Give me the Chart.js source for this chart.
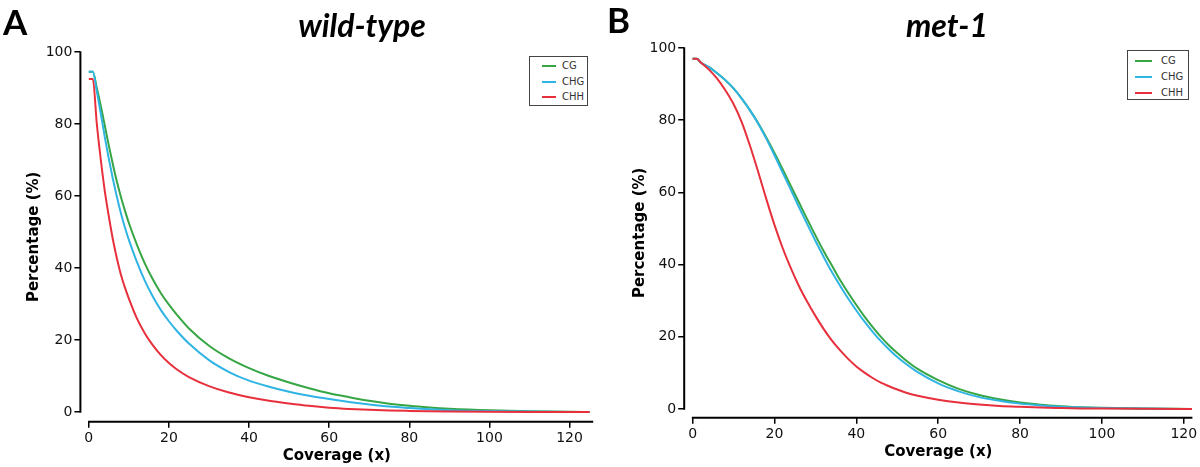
<!DOCTYPE html>
<html>
<head>
<meta charset="utf-8">
<script src="https://cdn.jsdelivr.net/npm/chart.js@4.4.1/dist/chart.umd.min.js"></script>
<style>
  html, body { margin:0; padding:0; background:#fff; }
  #wrap { position:relative; width:1200px; height:467px; overflow:hidden; background:#fff; }
  canvas { position:absolute; top:0; }
  .panel { position:absolute; font-family: Lato, "Open Sans", sans-serif; font-weight:700; font-size:35px; line-height:35px; color:#000; }
  .title { position:absolute; font-family: Lato, "Open Sans", sans-serif; font-weight:700; font-style:italic; font-size:32px; line-height:32px; color:#000; transform:translateX(-50%); white-space:nowrap; }
  .legend { position:absolute; border:1px solid #444; background:#fff; font-family:"DejaVu Sans", sans-serif; font-size:10px; color:#333; box-sizing:border-box; }
  .legend .row { position:absolute; height:12px; line-height:12px; }
  .legend .sw { position:absolute; height:2px; top:5px; }
  .legend .lb { position:absolute; top:0; white-space:nowrap; }
</style>
</head>
<body>
<div id="wrap">
  <canvas id="cA" width="600" height="467" style="left:0px;width:600px;height:467px"></canvas>
  <canvas id="cB" width="600" height="467" style="left:600px;width:600px;height:467px"></canvas>
  <div class="panel" style="left:3px;top:4px">A</div>
  <div class="panel" style="left:607px;top:2px">B</div>
  <div class="title" style="left:362px;top:9px">wild-type</div>
  <div class="title" style="left:947px;top:9px">met-1</div>
  <div id="legA" class="legend" style="left:529px;top:56px;width:59px;height:50px"></div>
  <div id="legB" class="legend" style="left:1127px;top:50px;width:62px;height:50px"></div>
</div>
<script>
// ---------- data ----------
const seriesNames = ["CG", "CHG", "CHH"];
const seriesColors = ["#36a544", "#2fb4e4", "#e8303c"];
const yTicks = [0, 20, 40, 60, 80, 100];
const xTicks = [0, 20, 40, 60, 80, 100, 120];

// Panel A: wild-type
const coverageA = [0,1,2,3,4,5,6,7,8,9,10,12,14,16,18,20,22,25,30,35,40,45,50,55,60,65,70,75,80,85,90,100,110,120,125];
const cgA  = [94.5,94.5,90,85,79.5,74,68.8,64,59.8,56,52.5,46.5,41.2,36.8,33,29.8,27,23.2,18.4,14.9,12.2,10,8.2,6.6,5.2,4.1,3.1,2.3,1.7,1.25,0.9,0.45,0.2,0.05,0];
const chgA = [94.5,94.5,89,82.8,76.3,70.3,64.8,59.8,55.3,51.3,47.8,41.7,36.4,32,28.3,25.2,22.5,19,14.4,11.1,8.7,7.0,5.6,4.5,3.6,2.8,2.1,1.5,1.1,0.75,0.5,0.25,0.1,0.02,0];
const chhA = [92.5,92.5,80,70,61.3,54.3,48,42.7,38.2,34.6,31.5,26,21.8,18.5,15.8,13.6,11.8,9.7,7.2,5.4,4.1,3.1,2.35,1.7,1.2,0.85,0.6,0.42,0.3,0.2,0.13,0.05,0.02,0,0];

// Panel B: met-1
const coverageB = [0,1,2,4,6,8,10,12,14,16,18,20,22,24,26,28,30,32,34,36,38,40,42,44,46,48,50,52,55,60,65,70,75,80,85,90,95,100,110,122];
const cgB  = [97,97,96,94.7,93,91.1,88.8,86,82.8,79.2,75.2,70.9,66.4,61.8,57.2,52.6,48.1,43.8,39.8,35.8,32.2,28.8,25.6,22.7,20,17.6,15.5,13.6,11.1,8.0,5.6,3.9,2.7,1.8,1.2,0.8,0.5,0.35,0.15,0];
const chgB = [97,97,96,94.7,93,91.1,88.8,86,82.8,79.1,74.9,70.3,65.5,60.7,55.9,51.2,46.6,42.2,38,34.2,30.6,27.3,24.2,21.4,18.8,16.5,14.4,12.6,10.2,7.1,4.9,3.3,2.3,1.5,1.0,0.65,0.45,0.3,0.12,0];
const chhB = [97,97,96,94,91.5,88.3,84.5,79.5,73,65.8,58.2,51,44.6,39,34,29.7,25.8,22.2,19,16.3,13.9,11.8,10.1,8.6,7.3,6.3,5.4,4.6,3.7,2.6,1.8,1.25,0.85,0.6,0.4,0.28,0.18,0.12,0.05,0];

// ---------- helpers ----------
const spinePlugin = {
  id: 'spines',
  afterDraw(chart) {
    const {ctx, chartArea, scales} = chart;
    const x = scales.x, y = scales.y;
    ctx.save();
    ctx.strokeStyle = '#000';
    ctx.lineWidth = 2;
    ctx.lineCap = 'butt';
    ctx.beginPath();
    ctx.moveTo(chartArea.left, y.getPixelForValue(0) + 0.75);
    ctx.lineTo(chartArea.left, y.getPixelForValue(100) - 0.75);
    ctx.stroke();
    ctx.beginPath();
    ctx.moveTo(x.getPixelForValue(0) - 0.75, chartArea.bottom);
    ctx.lineTo(chartArea.right, chartArea.bottom);
    ctx.stroke();
    ctx.restore();
  }
};

function makeChart(id, xs, ys, g) {
  const datasets = ys.map((arr, i) => ({
    label: seriesNames[i],
    data: xs.map((xv, k) => ({x: xv, y: arr[k]})),
    borderColor: seriesColors[i],
    backgroundColor: seriesColors[i],
    borderWidth: 2,
    pointRadius: 0,
    fill: false,
    cubicInterpolationMode: 'monotone',
    tension: 0.4
  }));
  datasets.reverse();
  return new Chart(document.getElementById(id), {
    type: 'line',
    data: { datasets },
    plugins: [spinePlugin],
    options: {
      responsive: false,
      animation: false,
      devicePixelRatio: 1,
      layout: { padding: { left: g.padLeft, right: g.padRight, top: g.padTop, bottom: 0 } },
      plugins: { legend: { display: false }, tooltip: { enabled: false }, title: { display: false } },
      scales: {
        x: {
          type: 'linear', min: g.xMin, max: g.xMax,
          afterBuildTicks: s => { s.ticks = xTicks.map(v => ({value: v})); },
          afterFit: s => { s.height = g.xHeight; },
          grid: { display: true, drawOnChartArea: false, drawTicks: true, tickLength: 6, color: '#000', lineWidth: 1.5 },
          border: { display: false },
          ticks: { color: '#111', font: { family: 'DejaVu Sans', size: 14 }, padding: 2, maxRotation: 0, autoSkip: false, callback: v => String(v) },
          title: { display: true, text: 'Coverage (x)', color: '#000', font: { family: 'DejaVu Sans', size: 15, weight: 'bold' }, padding: { top: 0, bottom: g.xTitlePad } }
        },
        y: {
          type: 'linear', min: g.yMin, max: 100,
          afterBuildTicks: s => { s.ticks = yTicks.map(v => ({value: v})); },
          afterFit: s => { s.width = g.yWidth; },
          grid: { display: true, drawOnChartArea: false, drawTicks: true, tickLength: 6, color: '#000', lineWidth: 1.5 },
          border: { display: false },
          ticks: { color: '#111', font: { family: 'DejaVu Sans', size: 14 }, padding: 2, autoSkip: false, callback: v => String(v) },
          title: { display: true, text: 'Percentage (%)', color: '#000', font: { family: 'DejaVu Sans', size: 15, weight: 'bold' }, padding: { top: 0, bottom: 0 } }
        }
      }
    }
  });
}

function makeLegend(id, g) {
  const el = document.getElementById(id);
  seriesNames.forEach((n, i) => {
    const row = document.createElement('div');
    row.className = 'row';
    row.style.top = (g.rowTop + i * g.rowGap) + 'px';
    row.style.left = '0px';
    const sw = document.createElement('div');
    sw.className = 'sw';
    sw.style.left = g.swLeft + 'px';
    sw.style.width = g.swWidth + 'px';
    sw.style.background = seriesColors[i];
    const lb = document.createElement('div');
    lb.className = 'lb';
    lb.style.left = g.lbLeft + 'px';
    lb.textContent = n;
    row.appendChild(sw); row.appendChild(lb);
    el.appendChild(row);
  });
}

makeChart('cA', coverageA, [cgA, chgA, chhA], {
  padLeft: 25, padRight: 6.8, padTop: 52, yWidth: 55.4, xHeight: 45.3,
  xMin: -2.1, xMax: 125.9, yMin: -2.7, xTitlePad: 2
});
makeChart('cB', coverageB, [cgB, chgB, chhB], {
  padLeft: 31, padRight: 7.6, padTop: 48, yWidth: 53.2, xHeight: 49.3,
  xMin: -2.05, xMax: 122.1, yMin: -2.4, xTitlePad: 6
});
makeLegend('legA', { rowTop: 3, rowGap: 15.5, swLeft: 12, swWidth: 14, lbLeft: 32 });
makeLegend('legB', { rowTop: 4, rowGap: 16, swLeft: 7, swWidth: 17, lbLeft: 33 });
</script>
</body>
</html>
